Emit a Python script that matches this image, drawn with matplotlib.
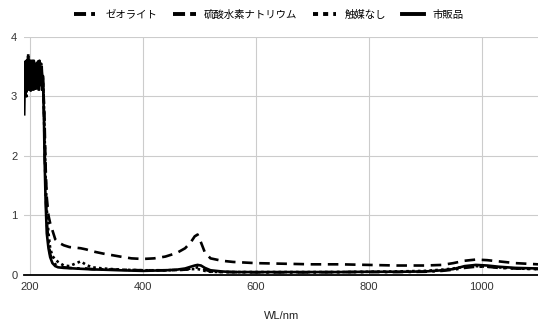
import numpy as np
import matplotlib
matplotlib.use("Agg")
import matplotlib.pyplot as plt

plt.rcParams['font.family'] = ['Liberation Sans', 'Noto Sans CJK JP', 'DejaVu Sans']

# noisy UV region, 1 nm steps (190-225 nm)
wl_uv = list(range(190, 226))
uv_commercial = [2.7, 3.3, 3.0, 3.4, 3.1, 3.5, 3.2, 3.4, 3.1, 3.55, 3.2, 3.45, 3.15, 3.6,
                 3.25, 3.5, 3.1, 3.45, 3.2, 3.55, 3.3, 3.5, 3.15, 3.4, 3.25, 3.6, 3.1, 3.45,
                 3.3, 3.5, 3.2, 3.45, 3.1, 3.35, 3.0, 2.6]
uv_nahso4 = [3.6, 3.0, 3.5, 3.2, 3.6, 3.3, 3.45, 3.75, 3.2, 3.5, 3.3, 3.6, 3.1, 3.5,
             3.35, 3.55, 3.2, 3.6, 3.25, 3.5, 3.1, 3.55, 3.3, 3.45, 3.2, 3.5, 3.35, 3.6,
             3.15, 3.45, 3.3, 3.5, 3.2, 3.4, 3.1, 2.9]
uv_none = [3.1, 3.4, 3.2, 3.5, 3.0, 3.45, 3.3, 3.6, 3.25, 3.4, 3.1, 3.5, 3.3, 3.45,
           3.2, 3.55, 3.3, 3.4, 3.15, 3.5, 3.25, 3.45, 3.35, 3.6, 3.1, 3.4, 3.2, 3.5,
           3.3, 3.45, 3.15, 3.4, 3.25, 3.3, 3.05, 2.8]
uv_zeolite = [3.0, 3.2, 3.5, 3.1, 3.4, 3.25, 3.55, 3.3, 3.6, 3.2, 3.45, 3.1, 3.5, 3.3,
              3.6, 3.2, 3.4, 3.3, 3.55, 3.1, 3.45, 3.3, 3.5, 3.2, 3.4, 3.15, 3.5, 3.3,
              3.45, 3.2, 3.55, 3.3, 3.4, 3.2, 3.1, 2.7]

# visible / NIR region
wl_vis = [226, 228, 230, 233, 236, 240, 245, 250, 260, 270, 280, 290, 300, 310, 330,
          360, 380, 400, 420, 440, 460, 475, 485, 492, 497, 503, 510, 520, 540, 560,
          600, 650, 700, 750, 800, 850, 900, 930, 950, 970, 990, 1010, 1030, 1060, 1100]
vis_commercial = [2.0, 1.2, 0.7, 0.45, 0.3, 0.2, 0.15, 0.13, 0.12, 0.115, 0.11, 0.105, 0.1,
                  0.095, 0.09, 0.08, 0.075, 0.07, 0.075, 0.08, 0.09, 0.11, 0.14, 0.16, 0.17,
                  0.16, 0.12, 0.08, 0.06, 0.05, 0.05, 0.05, 0.05, 0.05, 0.055, 0.055, 0.06,
                  0.08, 0.1, 0.15, 0.17, 0.16, 0.14, 0.12, 0.11]
vis_nahso4 = [2.6, 1.8, 1.3, 1.0, 0.87, 0.75, 0.6, 0.55, 0.5, 0.47, 0.46, 0.45, 0.43, 0.4,
              0.36, 0.31, 0.28, 0.27, 0.28, 0.31, 0.37, 0.45, 0.55, 0.65, 0.68, 0.55, 0.38,
              0.28, 0.24, 0.22, 0.2, 0.19, 0.18, 0.18, 0.17, 0.16, 0.16, 0.17, 0.2, 0.24,
              0.26, 0.25, 0.23, 0.2, 0.18]
vis_none = [2.4, 1.6, 1.1, 0.7, 0.45, 0.32, 0.26, 0.22, 0.16, 0.15, 0.19, 0.23, 0.17, 0.13,
            0.11, 0.09, 0.085, 0.08, 0.08, 0.08, 0.085, 0.09, 0.1, 0.1, 0.1, 0.09, 0.07,
            0.055, 0.05, 0.05, 0.05, 0.05, 0.05, 0.05, 0.055, 0.06, 0.07, 0.09, 0.11, 0.14,
            0.15, 0.14, 0.13, 0.11, 0.1]
vis_zeolite = [2.2, 1.4, 0.9, 0.55, 0.35, 0.24, 0.18, 0.15, 0.13, 0.12, 0.115, 0.11, 0.11,
               0.1, 0.095, 0.09, 0.085, 0.08, 0.08, 0.08, 0.085, 0.09, 0.11, 0.12, 0.13,
               0.12, 0.09, 0.06, 0.05, 0.05, 0.045, 0.045, 0.045, 0.05, 0.05, 0.05, 0.055,
               0.07, 0.09, 0.12, 0.14, 0.14, 0.12, 0.11, 0.1]

labels = ['ゼオライト', '硫酸水素ナトリウム', '触媒なし', '市販品']

wl = np.array(wl_uv + wl_vis)
series = [uv_zeolite + vis_zeolite, uv_nahso4 + vis_nahso4,
          uv_none + vis_none, uv_commercial + vis_commercial]
styles = [(0, (4, 2, 1, 2)), (0, (4, 2.5)), (0, (1, 1.2)), '-']
# shorter patterns for the thick legend keys
leg_styles = [(0, (3.1, 1.3, 1.0, 1.3)), (0, (3.1, 1.3)), (0, (1.3, 1.3)), '-']

fig = plt.figure(figsize=(5.38, 3.29), dpi=100)
ax = fig.add_axes([0.045, 0.164, 0.955, 0.724])

for y, ls, lab in zip(series, styles, labels):
    ax.plot(wl, y, color='black', linestyle=ls, linewidth=1.9, label=lab,
            dash_capstyle='butt', solid_joinstyle='miter')

ax.set_xlim(190, 1100)
ax.set_ylim(0, 4)
ax.set_xticks([200, 400, 600, 800, 1000])
ax.set_yticks([0, 1, 2, 3, 4])
ax.grid(True, color='#cccccc', linewidth=0.8)
ax.set_axisbelow(True)
for s in ['top', 'right', 'left']:
    ax.spines[s].set_visible(False)
ax.spines['bottom'].set_linewidth(1.3)
ax.tick_params(length=0, labelsize=8, colors='#333333', pad=5)
ax.set_xlabel('WL/nm', fontsize=8, color='#222222', labelpad=14)

leg = fig.legend(loc='upper center', bbox_to_anchor=(0.5, 1.0), ncol=4, frameon=False,
                 fontsize=7.5, handlelength=2.2, columnspacing=1.5, handletextpad=0.8)
for h, ls in zip(leg.legend_handles, leg_styles):
    h.set_linewidth(2.8)
    h.set_linestyle(ls)

fig.savefig('out.png', dpi=100)
